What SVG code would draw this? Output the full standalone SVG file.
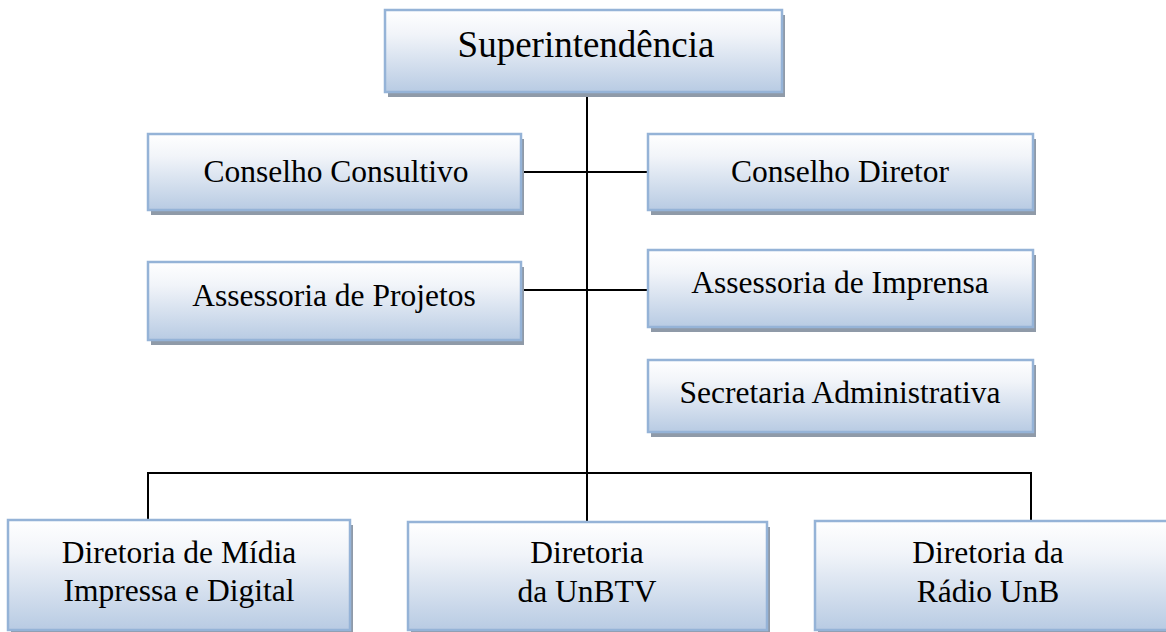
<svg xmlns="http://www.w3.org/2000/svg" width="1166" height="632" viewBox="0 0 1166 632">
<defs>
<linearGradient id="g" x1="0" y1="0" x2="0" y2="1">
<stop offset="0" stop-color="#ffffff"/>
<stop offset="0.3" stop-color="#f1f4f9"/>
<stop offset="1" stop-color="#b8cbe3"/>
</linearGradient>
<style>
.box{fill:url(#g);stroke:#95b3d7;stroke-width:2.5}
.sh{fill:#8f9aa8}
.t{font-family:"Liberation Serif","Times New Roman",serif;font-size:31.5px;fill:#000;text-anchor:middle}
.big{font-size:37px}
.c{stroke:#000;stroke-width:2;fill:none}
</style>
</defs>
<rect width="1166" height="632" fill="#fff"/>
<g id="connectors">
<line class="c" x1="587" y1="92" x2="587" y2="474"/>
<line class="c" x1="521" y1="172" x2="648" y2="172"/>
<line class="c" x1="521" y1="290" x2="648" y2="290"/>
<polyline class="c" points="148,521 148,473 1031,473 1031,521"/>
<line class="c" x1="587" y1="473" x2="587" y2="522"/>
</g>
<g id="superintendencia">
<rect class="sh" x="388" y="15" width="397" height="82"/>
<rect class="box" x="385" y="10" width="397" height="82"/>
<text class="t big" x="586" y="57">Superintendência</text>
</g>
<g id="conselho-consultivo">
<rect class="sh" x="151" y="139" width="373" height="76"/>
<rect class="box" x="148" y="134" width="373" height="76"/>
<text class="t" x="336" y="182">Conselho Consultivo</text>
</g>
<g id="conselho-diretor">
<rect class="sh" x="651" y="139" width="385" height="76"/>
<rect class="box" x="648" y="134" width="385" height="76"/>
<text class="t" x="840" y="182">Conselho Diretor</text>
</g>
<g id="assessoria-projetos">
<rect class="sh" x="151" y="267" width="373" height="78"/>
<rect class="box" x="148" y="262" width="373" height="78"/>
<text class="t" x="334" y="306">Assessoria de Projetos</text>
</g>
<g id="assessoria-imprensa">
<rect class="sh" x="651" y="255" width="385" height="77"/>
<rect class="box" x="648" y="250" width="385" height="77"/>
<text class="t" x="840" y="293">Assessoria de Imprensa</text>
</g>
<g id="secretaria">
<rect class="sh" x="651" y="365" width="385" height="72"/>
<rect class="box" x="648" y="360" width="385" height="72"/>
<text class="t" x="840" y="403">Secretaria Administrativa</text>
</g>
<g id="diretoria-midia">
<rect class="sh" x="11" y="525" width="342" height="109"/>
<rect class="box" x="8" y="520" width="342" height="110"/>
<text class="t" x="179" y="563">Diretoria de Mídia</text>
<text class="t" x="179" y="601">Impressa e Digital</text>
</g>
<g id="diretoria-unbtv">
<rect class="sh" x="411" y="527" width="359" height="108"/>
<rect class="box" x="408" y="522" width="359" height="108"/>
<text class="t" x="587" y="563">Diretoria</text>
<text class="t" x="587" y="602">da UnBTV</text>
</g>
<g id="diretoria-radio">
<rect class="sh" x="818" y="526" width="360" height="109"/>
<rect class="box" x="815" y="521" width="360" height="109"/>
<text class="t" x="988" y="563">Diretoria da</text>
<text class="t" x="988" y="602">Rádio UnB</text>
</g>
</svg>
